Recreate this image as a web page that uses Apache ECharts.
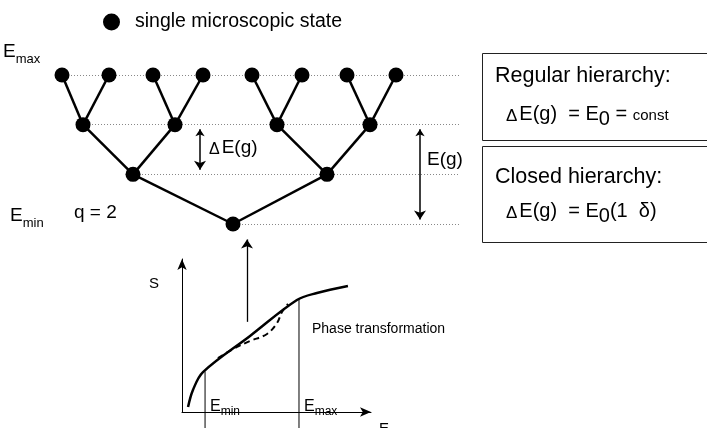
<!DOCTYPE html>
<html><head><meta charset="utf-8">
<script src="https://cdn.jsdelivr.net/npm/echarts@6/dist/echarts.min.js"></script>
<style>html,body{margin:0;padding:0;background:#fff}#c{width:707px;height:428px}</style>
</head><body><div id="c"></div>
<script>
// ---- Tree of microscopic states: x position of nodes per energy level g (0 = Emin, 3 = Emax)
const level0X = [233];
const level1X = [133, 327];
const level2X = [83, 175, 277, 370];
const level3X = [62, 109, 153, 203, 252, 302, 347, 396];
const levelLineEnd = 460;
// arrows: [x, fromLevel, toLevel]
const deltaArrow = [200, 2, 1];
const totalArrow = [420, 2, 0];
const upArrow = [247, -1.97, -0.22];
// ---- Inset S(E)
const solidE = [0.032, 0.058, 0.111, 0.360, 0.608, 0.714, 0.878];
const solidS = [0.033, 0.144, 0.261, 0.497, 0.732, 0.778, 0.824];
const dashE = [0.190, 0.291, 0.360, 0.450, 0.503, 0.529, 0.561];
const dashS = [0.353, 0.425, 0.464, 0.510, 0.582, 0.654, 0.706];
const eMinMark = [0.122, 0.265];
const eMaxMark = [0.619, 0.738];
const markBottom = -0.105;

const FF = "'Liberation Sans', Arial, Helvetica, sans-serif";
const levelX = [level0X, level1X, level2X, level3X];
const pxPerLevel = 149 / 3;
const pad = 4.5 / pxPerLevel;

const nodes = [];
levelX.forEach((xs, g) => xs.forEach(x => nodes.push([x, g])));
const edges = [];
for (let g = 1; g < levelX.length; g++) {
  levelX[g].forEach((x, i) => edges.push({coords: [[x, g], [levelX[g - 1][Math.floor(i / 2)], g - 1]]}));
}
const dotted = levelX.map((xs, g) => ({coords: [[xs[0], g], [levelLineEnd, g]]}));
function arrowCoords(a, both) {
  const dir = a[2] > a[1] ? 1 : -1;
  return {coords: [[a[0], a[1] + (both ? dir * pad : 0)], [a[0], a[2] - dir * pad]]};
}

const ctx = document.createElement('canvas').getContext('2d');
function seq(x, y, parts) {
  const out = []; let cx = x;
  parts.forEach(p => {
    const font = (p.s) + 'px ' + FF;
    ctx.font = font;
    out.push({type: 'text', x: cx, y: y + (p.dy || 0), silent: true, z: 10,
      style: {text: p.t, font: font, fill: '#000', align: 'left', verticalAlign: 'middle', textAlign: 'left', textVerticalAlign: 'middle'}});
    cx += ctx.measureText(p.t).width + (p.gap || 0);
  });
  return out;
}

const graphics = [].concat(
  seq(3, 52, [{t: 'E', s: 19}, {t: 'max', s: 13, dy: 7}]),
  seq(10, 216, [{t: 'E', s: 19}, {t: 'min', s: 13, dy: 7}]),
  seq(74, 213, [{t: 'q = 2', s: 19}]),
  seq(209, 148, [{t: 'Δ', s: 16, gap: 2, dy: 2}, {t: 'E(g)', s: 19}]),
  seq(427, 160, [{t: 'E(g)', s: 19}]),
  seq(495, 76, [{t: 'Regular hierarchy:', s: 21.5}]),
  seq(506, 114, [{t: 'Δ', s: 17, gap: 2, dy: 2}, {t: 'E(g)  = E', s: 20}, {t: '0', s: 20, dy: 5}, {t: ' = ', s: 20}, {t: 'const', s: 15, dy: 2}]),
  seq(495, 177, [{t: 'Closed hierarchy:', s: 21.5}]),
  seq(506, 211, [{t: 'Δ', s: 17, gap: 2, dy: 2}, {t: 'E(g)  = E', s: 20}, {t: '0', s: 20, dy: 5}, {t: '(1  δ)', s: 20}]),
  seq(149, 284, [{t: 'S', s: 15}]),
  seq(379, 429, [{t: 'E', s: 15}]),
  seq(312, 329, [{t: 'Phase transformation', s: 14}]),
  seq(210, 407, [{t: 'E', s: 16}, {t: 'min', s: 12, dy: 5}]),
  seq(304, 407, [{t: 'E', s: 16}, {t: 'max', s: 12, dy: 5}]),
  [
    {type: 'rect', shape: {x: 482.5, y: 53.5, width: 240, height: 87}, style: {fill: 'none', stroke: '#222', lineWidth: 1}, silent: true},
    {type: 'rect', shape: {x: 482.5, y: 146.5, width: 240, height: 96}, style: {fill: 'none', stroke: '#222', lineWidth: 1}, silent: true}
  ]
);

const axisOff = {show: false};
const insetAxis = {
  min: 0, max: 1,
  axisLine: {show: true, symbol: ['none', 'arrow'], symbolSize: [7, 11], lineStyle: {color: '#000', width: 1}},
  axisTick: {show: false}, axisLabel: {show: false}, splitLine: {show: false}
};

const chart = echarts.init(document.getElementById('c'), null, {renderer: 'canvas'});
chart.setOption({
  animation: false,
  backgroundColor: '#fff',
  legend: {
    data: ['single microscopic state'], left: 103, top: 12, padding: 0,
    icon: 'circle', itemWidth: 17, itemHeight: 17, selectedMode: false,
    itemStyle: {color: '#000', opacity: 1},
    textStyle: {fontSize: 19.5, color: '#000', fontFamily: FF, padding: [0, 0, 0, 10]}
  },
  grid: [
    {left: 0, top: 75, width: 707, height: 149},
    {left: 182, top: 259, width: 189, height: 153}
  ],
  xAxis: [
    Object.assign({gridIndex: 0, type: 'value', min: 0, max: 707}, axisOff),
    Object.assign({gridIndex: 1, type: 'value'}, insetAxis)
  ],
  yAxis: [
    Object.assign({gridIndex: 0, type: 'value', min: 0, max: 3}, axisOff),
    Object.assign({gridIndex: 1, type: 'value'}, insetAxis)
  ],
  series: [
    {type: 'lines', coordinateSystem: 'cartesian2d', xAxisIndex: 0, yAxisIndex: 0, silent: true, z: 1, clip: false,
     data: dotted, lineStyle: {color: '#888', width: 1, type: [1, 2], opacity: 1}},
    {type: 'lines', coordinateSystem: 'cartesian2d', xAxisIndex: 0, yAxisIndex: 0, silent: true, z: 2, clip: false,
     data: edges, lineStyle: {color: '#000', width: 2.5, opacity: 1}},
    {type: 'lines', coordinateSystem: 'cartesian2d', xAxisIndex: 0, yAxisIndex: 0, silent: true, z: 2, clip: false,
     symbol: ['arrow', 'arrow'], symbolSize: [7, 9],
     data: [arrowCoords(deltaArrow, true), arrowCoords(totalArrow, true)], lineStyle: {color: '#000', width: 1.5, opacity: 1}},
    {type: 'lines', coordinateSystem: 'cartesian2d', xAxisIndex: 0, yAxisIndex: 0, silent: true, z: 2, clip: false,
     symbol: ['none', 'arrow'], symbolSize: [7, 9],
     data: [arrowCoords(upArrow, false)], lineStyle: {color: '#000', width: 1.3, opacity: 1}},
    {name: 'single microscopic state', type: 'scatter', xAxisIndex: 0, yAxisIndex: 0, data: nodes,
     symbol: 'circle', symbolSize: 15, itemStyle: {color: '#000', opacity: 1}, z: 5, silent: true},
    {type: 'line', xAxisIndex: 1, yAxisIndex: 1, data: solidE.map((e, i) => [e, solidS[i]]),
     smooth: 0.35, symbol: 'none', lineStyle: {color: '#000', width: 2.5}, clip: false, silent: true},
    {type: 'line', xAxisIndex: 1, yAxisIndex: 1, data: dashE.map((e, i) => [e, dashS[i]]),
     smooth: 0.35, symbol: 'none', lineStyle: {color: '#000', width: 2, type: [6, 4]}, clip: false, silent: true},
    {type: 'line', xAxisIndex: 1, yAxisIndex: 1, data: [[eMinMark[0], eMinMark[1]], [eMinMark[0], markBottom]],
     symbol: 'none', lineStyle: {color: '#000', width: 1}, clip: false, silent: true},
    {type: 'line', xAxisIndex: 1, yAxisIndex: 1, data: [[eMaxMark[0], eMaxMark[1]], [eMaxMark[0], markBottom]],
     symbol: 'none', lineStyle: {color: '#000', width: 1}, clip: false, silent: true}
  ],
  graphic: graphics
});
</script></body></html>
